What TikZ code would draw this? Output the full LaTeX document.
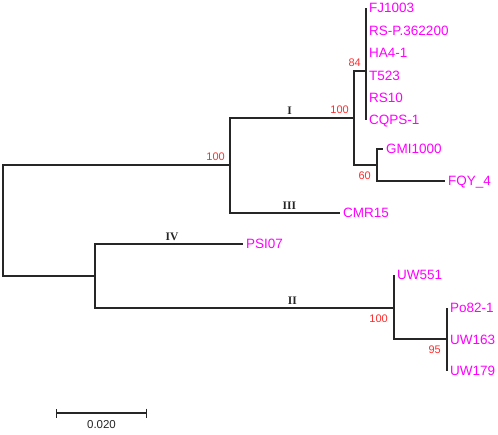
\documentclass[tikz,border=0pt]{standalone}
\usepackage{fontspec}
\setmainfont{Liberation Sans}
\newfontfamily\romfont{Liberation Serif}
\usepackage{xcolor}
\usetikzlibrary{arrows.meta}
\definecolor{leafpink}{RGB}{255,0,255}
\definecolor{bootred}{RGB}{255,45,45}

\begin{document}
\begin{tikzpicture}[
  x=1pt, y=-1pt,
  branch/.style={line width=1.2pt, black!85},
  leaf/.style={anchor=west, text=leafpink, inner sep=3pt,
    font=\fontsize{13.5}{15}\selectfont, text height=9.6pt, text depth=0pt},
  boot/.style={text=bootred, inner sep=0pt, font=\fontsize{11}{13}\selectfont},
  bsa/.style={boot, anchor=south east, xshift=-5pt, yshift=4pt},
  bsb/.style={boot, anchor=north east, xshift=-6pt, yshift=-7pt},
  clade/.style={above, inner sep=2.5pt, font=\romfont\bfseries\fontsize{11.5}{14}\selectfont},
  sbar/.style={branch, {Bar[width=9pt]}-{Bar[width=9pt]}},
]
\useasboundingbox (0,0) rectangle (498,434);

\coordinate (root) at (3,220);
\coordinate (nA) at (230,165);
\coordinate (nI) at (354,118);
\coordinate (n84) at (366,71);
\coordinate (n60) at (377,165);
\coordinate (nB) at (95,276);
\coordinate (nII) at (394,308);
\coordinate (n95) at (447,339);

\node[leaf] (fj) at (366,8) {FJ1003};
\node[leaf] (rsp) at (366,30.4) {RS-P.362200};
\node[leaf] (ha) at (366,52.8) {HA4-1};
\node[leaf] (t523) at (366,75.2) {T523};
\node[leaf] (rs10) at (366,97.6) {RS10};
\node[leaf] (cqps) at (366,120) {CQPS-1};
\node[leaf] (gmi) at (383,149) {GMI1000};
\node[leaf] (fqy) at (445,181) {FQY\_4};
\node[leaf] (cmr) at (340,213) {CMR15};
\node[leaf] (psi) at (243,244) {PSI07};
\node[leaf] (uw551) at (394,275) {UW551};
\node[leaf] (po82) at (447,308) {Po82-1};
\node[leaf] (uw163) at (447,339.5) {UW163};
\node[leaf] (uw179) at (447,371) {UW179};

\draw[branch] (root) |- (nA);
\draw[branch] (root) |- (nB);
\draw[branch] (nA) |- node[clade, pos=0.74] {I} (nI);
\draw[branch] (nA) |- node[clade, pos=0.77] {III} (cmr.west);
\draw[branch] (nI) |- (n84);
\draw[branch] (nI) |- (n60);
\draw[branch] (n84) -- (fj.west);
\draw[branch] (n84) -- (cqps.west);
\draw[branch] (n60) |- (gmi.west);
\draw[branch] (n60) |- (fqy.west);
\draw[branch] (nB) |- node[clade, pos=0.76] {IV} (psi.west);
\draw[branch] (nB) |- node[clade, pos=0.83] {II} (nII);
\draw[branch] (nII) -- (uw551.west);
\draw[branch] (nII) |- (n95);
\draw[branch] (n95) -- (po82.west);
\draw[branch] (n95) -- (uw179.west);

\node[bsa] (bA) at (nA) {100};
\node[bsa] (bI) at (nI) {100};
\node[bsa] (b84) at (n84) {84};
\node[bsb] (b60) at (n60) {60};
\node[bsb] (bII) at (nII) {100};
\node[bsb] (b95) at (n95) {95};

\coordinate (sbl) at (56,413);
\coordinate (sbr) at (147,413);
\draw[sbar] (sbl) -- node[below=3pt, inner sep=3.8pt, font=\fontsize{11.5}{13}\selectfont] (sblab) {0.020} (sbr);
\end{tikzpicture}
\end{document}
